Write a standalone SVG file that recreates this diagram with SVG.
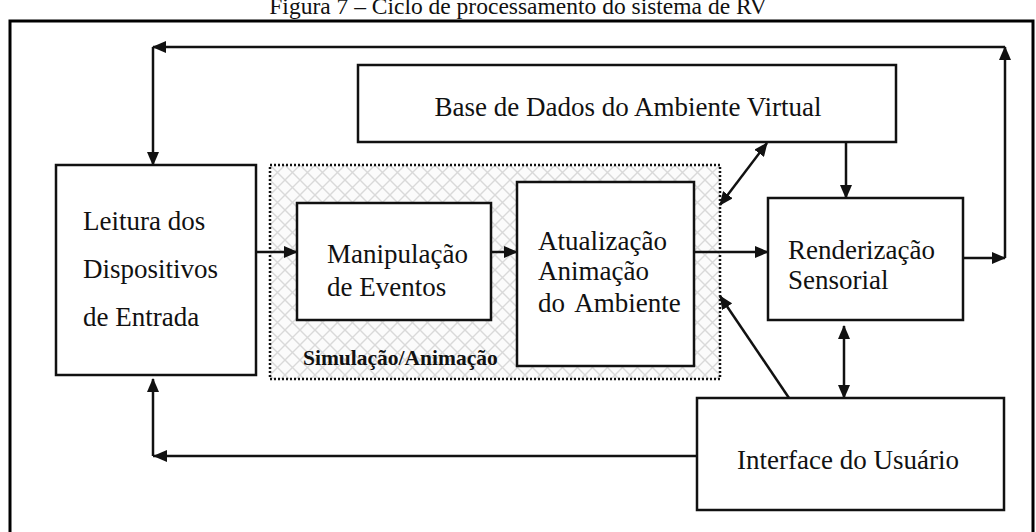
<svg xmlns="http://www.w3.org/2000/svg" width="1036" height="532" viewBox="0 0 1036 532">
  <style>
    .box { fill: #fff; stroke: #111; stroke-width: 2.5; }
    .lbl { font-family: "Liberation Serif", "Times New Roman", serif; font-size: 27px; fill: #111; }
    .con { fill: none; stroke: #111; stroke-width: 2.5; }
    .title { font-family: "Liberation Serif", "Times New Roman", serif; font-size: 23.5px; fill: #111; }
  </style>
  <defs>
    <marker id="ah" viewBox="0 0 14 12" refX="13" refY="6" markerWidth="14" markerHeight="12" markerUnits="userSpaceOnUse" orient="auto-start-reverse">
      <path d="M0,0 L14,6 L0,12 Z" fill="#111"/>
    </marker>
    <pattern id="hatch" width="15" height="15" patternUnits="userSpaceOnUse">
      <rect width="15" height="15" fill="#fbfbfb"/>
      <path d="M0,0 L15,15 M15,0 L0,15" stroke="#d9d9d9" stroke-width="1.4"/>
    </pattern>
  </defs>

  <rect width="1036" height="532" fill="#fff"/>

  <!-- caption, clipped by the top of the page -->
  <text class="title" x="518" y="14" text-anchor="middle">Figura 7 – Ciclo de processamento do sistema de RV</text>

  <!-- frame -->
  <path d="M10,532 V21 H1033 V532" fill="none" stroke="#000" stroke-width="3"/>

  <!-- simulation/animation area -->
  <g id="simulacao">
    <rect x="270" y="165" width="450" height="214" fill="url(#hatch)" stroke="#111" stroke-width="2.5" stroke-dasharray="2 2"/>
    <text x="303" y="365" font-family="'Liberation Serif', 'Times New Roman', serif" font-size="21.5" font-weight="bold" fill="#111">Simulação/Animação</text>
  </g>

  <g id="base-dados">
    <rect class="box" x="358" y="65" width="538" height="77"/>
    <text class="lbl" x="628" y="116" text-anchor="middle">Base de Dados do Ambiente Virtual</text>
  </g>

  <g id="leitura">
    <rect class="box" x="56" y="165" width="200" height="210"/>
    <text class="lbl" x="83" y="230">Leitura dos</text>
    <text class="lbl" x="83" y="278">Dispositivos</text>
    <text class="lbl" x="83" y="326">de Entrada</text>
  </g>

  <g id="manipulacao">
    <rect class="box" x="297" y="203" width="194" height="117"/>
    <text class="lbl" x="327" y="263">Manipulação</text>
    <text class="lbl" x="327" y="296">de Eventos</text>
  </g>

  <g id="atualizacao">
    <rect class="box" x="517" y="182" width="177" height="184"/>
    <text class="lbl" x="538" y="250">Atualização</text>
    <text class="lbl" x="538" y="280">Animação</text>
    <text class="lbl" x="538" y="312" word-spacing="4">do Ambiente</text>
  </g>

  <g id="renderizacao">
    <rect class="box" x="768" y="198" width="195" height="122"/>
    <text class="lbl" x="788" y="259">Renderização</text>
    <text class="lbl" x="788" y="289">Sensorial</text>
  </g>

  <g id="interface">
    <rect class="box" x="697" y="398" width="307" height="112"/>
    <text class="lbl" x="737" y="469">Interface do Usuário</text>
  </g>

  <g id="connectors">
    <!-- outer feedback loop -->
    <line class="con" x1="963" y1="258" x2="1005" y2="258" marker-end="url(#ah)"/>
    <line class="con" x1="1005" y1="258" x2="1005" y2="47" marker-end="url(#ah)"/>
    <line class="con" x1="1005" y1="47" x2="153" y2="47" marker-end="url(#ah)"/>
    <line class="con" x1="153" y1="47" x2="153" y2="165" marker-end="url(#ah)"/>
    <!-- main flow -->
    <line class="con" x1="256" y1="252" x2="297" y2="252" marker-end="url(#ah)"/>
    <line class="con" x1="491" y1="252" x2="517" y2="252" marker-end="url(#ah)"/>
    <line class="con" x1="694" y1="252" x2="768" y2="252" marker-end="url(#ah)"/>
    <!-- database links -->
    <line class="con" x1="720" y1="205" x2="767" y2="143" marker-start="url(#ah)" marker-end="url(#ah)"/>
    <line class="con" x1="846" y1="142" x2="846" y2="198" marker-end="url(#ah)"/>
    <!-- user interface links -->
    <line class="con" x1="844" y1="326" x2="844" y2="398" marker-start="url(#ah)" marker-end="url(#ah)"/>
    <line class="con" x1="789" y1="398" x2="720" y2="296" marker-end="url(#ah)"/>
    <line class="con" x1="697" y1="456" x2="153" y2="456"/>
    <line class="con" x1="153" y1="456" x2="153" y2="379" marker-end="url(#ah)"/>
    <path d="M153,456 L167,450 L167,462 Z" fill="#111"/>
  </g>
</svg>
